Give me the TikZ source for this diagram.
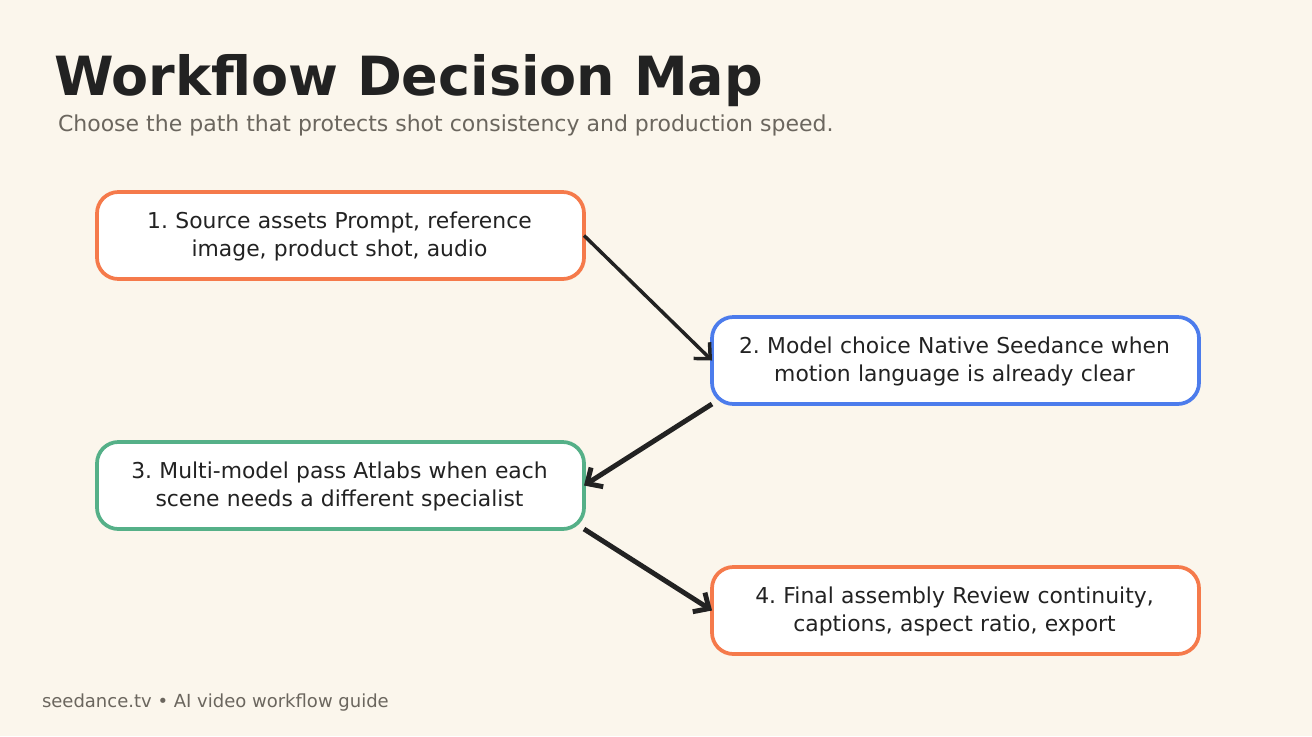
\documentclass[tikz,border=0pt]{standalone}
\usepackage{fontspec}
\setmainfont{DejaVu Sans}
\usetikzlibrary{arrows.meta}
\definecolor{bgc}{HTML}{FBF6EC}
\definecolor{inkc}{HTML}{222222}
\definecolor{greyc}{HTML}{6B665E}
\definecolor{orangec}{HTML}{F57A4B}
\definecolor{bluec}{HTML}{4C7CEC}
\definecolor{greenc}{HTML}{55B088}
\newcommand{\tline}[1]{\hspace*{-1.5pt}\raisebox{-0.75pt}[\height][\depth]{#1}}
\tikzset{
  box/.style={draw=#1,fill=white,line width=2.8pt,rounded corners=16pt,minimum width=365.25pt,minimum height=65.25pt,
    inner sep=0pt,outer sep=0pt,align=center,text width=345pt,text=inkc,font=\fontsize{16.4pt}{21pt}\selectfont\frenchspacing},
  conn/.style={draw=inkc,line width=#1,-{Straight Barb[length=9pt,width=17pt,line width=#1]},shorten >=0pt},
  freetext/.style={inner sep=0pt,outer sep=0pt,anchor=base west}
}
\begin{document}
\begin{tikzpicture}[x=0.75pt,y=-0.75pt]
\useasboundingbox[fill=bgc] (0,0) rectangle (1312,736);
\node[freetext,text=inkc,font=\bfseries\fontsize{40.5pt}{48pt}\selectfont] (title) at (54,95) {Workflow Decision Map};
\node[freetext,text=greyc,font=\fontsize{16.5pt}{20pt}\selectfont] (sub) at (58,131) {Choose the path that protects shot consistency and production speed.};
\node[box=orangec] (n1) at (340.5,235.5) {\tline{1. Source assets Prompt, reference}\\\tline{image, product shot, audio}};
\node[box=bluec] (n2) at (955.5,360.5) {\tline{2. Model choice Native Seedance when}\\\tline{motion language is already clear}};
\node[box=greenc] (n3) at (340.5,485.5) {\tline{3. Multi-model pass Atlabs when each}\\\tline{scene needs a different specialist}};
\node[box=orangec] (n4) at (955.5,610.5) {\tline{4. Final assembly Review continuity,}\\\tline{captions, aspect ratio, export}};
\draw[conn=2.6pt] (n1.east) -- (n2.west);
\draw[conn=3.7pt] (n2.south west) -- (n3.east);
\draw[conn=3.7pt] (n3.south east) -- (n4.west);
\node[freetext,text=greyc,font=\fontsize{13.5pt}{17pt}\selectfont] (foot) at (42,707) {seedance.tv • AI video workflow guide};
\end{tikzpicture}
\end{document}
